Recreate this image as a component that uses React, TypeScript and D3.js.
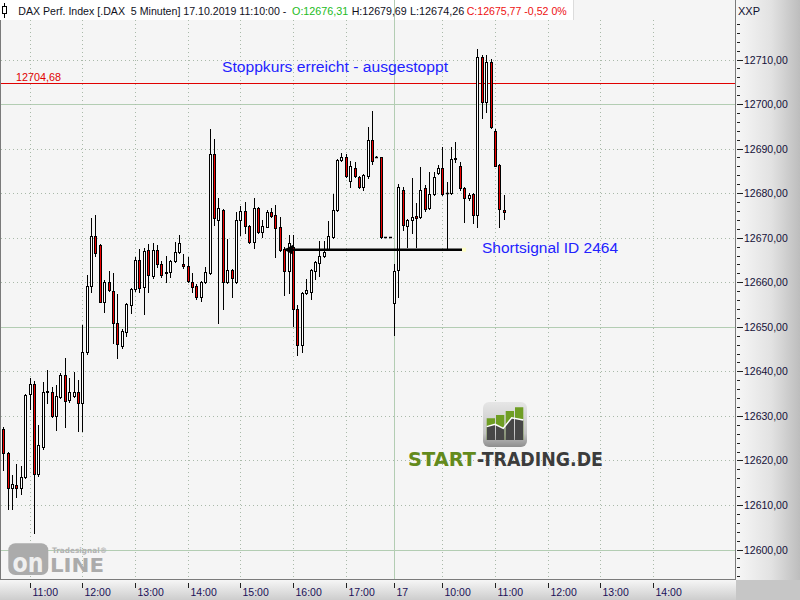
import React from 'react';
import * as d3 from 'd3';

// ---- data (5-minute DAX candles, 16.10.2019 10:30 .. 17.10.2019 11:10) ----
const opens = [
  12627.0, 12621.6, 12613.7, 12614.5, 12613.7, 12616.3, 12634.9, 12637.1, 12616.9, 12622.9,
  12635.4, 12635.4, 12629.9, 12634.3, 12639.2, 12633.5, 12634.4, 12635.4, 12632.9, 12644.3,
  12659.1, 12670.4, 12668.3, 12655.5, 12660.0, 12658.0, 12650.8, 12645.7, 12648.9, 12655.0,
  12658.4, 12665.0, 12659.0, 12667.2, 12661.5, 12667.2, 12664.2, 12662.2, 12662.4, 12664.8,
  12666.7, 12664.2, 12663.7, 12660.1, 12659.2, 12656.7, 12660.0, 12662.0, 12688.8, 12673.9,
  12676.2, 12660.0, 12662.7, 12660.1, 12674.0, 12676.0, 12672.6, 12669.1, 12676.6, 12671.3,
  12672.5, 12675.7, 12675.1, 12672.3, 12667.5, 12662.6, 12668.0, 12653.9, 12645.9, 12657.5,
  12657.9, 12662.6, 12664.4, 12665.9, 12667.5, 12670.2, 12676.2, 12687.4, 12688.2, 12682.7,
  12685.7, 12683.7, 12681.4, 12683.8, 12691.9, 12688.2, 12688.0, 12670.2, 12670.2,
  12655.3, 12662.7, 12680.7, 12672.6, 12674.0, 12674.8, 12674.7, 12681.1, 12676.6, 12679.8,
  12684.6, 12685.6, 12680.0, 12680.0, 12687.6, 12686.1, 12681.1, 12678.8, 12679.8, 12675.2,
  12710.6, 12700.4, 12709.4, 12694.0, 12686.3, 12676.31,
];
const highs = [
  12627.5, 12621.8, 12616.7, 12619.2, 12618.7, 12635.0, 12638.5, 12637.9, 12627.9, 12637.7,
  12640.3, 12636.5, 12636.9, 12639.6, 12643.0, 12638.5, 12639.8, 12638.0, 12650.4, 12661.6,
  12674.5, 12675.2, 12668.5, 12660.5, 12662.5, 12662.0, 12657.3, 12649.5, 12655.4, 12658.6,
  12665.7, 12667.4, 12667.6, 12668.5, 12668.7, 12668.4, 12664.8, 12666.0, 12665.0, 12669.1,
  12670.7, 12666.3, 12665.7, 12662.0, 12659.7, 12660.3, 12663.5, 12694.4, 12692.1, 12679.0,
  12676.4, 12669.7, 12663.0, 12675.8, 12677.1, 12678.1, 12672.8, 12678.8, 12677.0, 12674.0,
  12676.2, 12676.7, 12677.3, 12674.7, 12667.8, 12670.6, 12670.7, 12654.9, 12657.8, 12660.7,
  12663.0, 12664.8, 12669.2, 12669.2, 12673.8, 12679.7, 12687.6, 12688.9, 12688.7, 12687.2,
  12687.0, 12683.9, 12684.3, 12694.9, 12698.4, 12688.3, 12688.2, 12670.2, 12670.2,
  12664.1, 12682.0, 12681.4, 12674.2, 12683.3, 12677.7, 12685.9, 12681.8, 12684.8, 12684.8,
  12686.3, 12690.4, 12682.6, 12690.4, 12691.5, 12687.0, 12681.4, 12680.0, 12680.1, 12712.3,
  12711.0, 12711.0, 12710.1, 12694.5, 12686.5, 12679.69,
];
const lows = [
  12617.8, 12609.2, 12609.2, 12611.8, 12612.4, 12616.0, 12631.5, 12603.8, 12616.5, 12622.5,
  12633.0, 12629.7, 12626.8, 12634.0, 12627.6, 12633.1, 12634.2, 12626.7, 12626.7, 12644.0,
  12657.7, 12665.9, 12655.5, 12653.4, 12658.0, 12646.4, 12643.0, 12645.3, 12647.9, 12653.0,
  12658.0, 12657.9, 12652.8, 12657.9, 12661.0, 12663.5, 12661.2, 12660.0, 12661.2, 12664.5,
  12666.5, 12663.1, 12660.0, 12657.9, 12656.2, 12655.8, 12659.8, 12661.8, 12672.8, 12650.8,
  12654.1, 12659.8, 12656.7, 12659.9, 12670.6, 12671.0, 12668.7, 12667.6, 12671.1, 12670.1,
  12672.3, 12674.7, 12665.6, 12667.0, 12657.1, 12657.5, 12650.2, 12643.7, 12644.4, 12657.3,
  12656.2, 12660.7, 12661.5, 12665.7, 12667.3, 12670.0, 12676.0, 12687.2, 12683.6, 12681.4,
  12683.6, 12681.2, 12680.8, 12683.5, 12686.5, 12688.1, 12669.9, 12670.2, 12670.2,
  12648.1, 12656.7, 12671.7, 12668.0, 12671.0, 12668.0, 12674.5, 12676.0, 12676.4, 12679.6,
  12684.4, 12679.6, 12667.6, 12679.8, 12687.0, 12680.8, 12673.6, 12678.5, 12673.4, 12672.5,
  12696.8, 12698.3, 12694.6, 12686.0, 12672.5, 12674.26,
];
const closes = [
  12621.6, 12613.7, 12614.6, 12613.7, 12616.2, 12634.7, 12637.1, 12616.9, 12623.4, 12635.4,
  12635.6, 12629.9, 12634.4, 12639.2, 12633.4, 12635.4, 12635.4, 12633.0, 12644.3, 12659.1,
  12670.4, 12666.5, 12655.5, 12660.0, 12658.2, 12650.8, 12646.1, 12649.0, 12655.2, 12658.4,
  12664.9, 12658.8, 12667.0, 12661.6, 12667.2, 12664.2, 12661.6, 12662.0, 12664.8, 12666.7,
  12668.7, 12663.7, 12660.3, 12659.0, 12656.7, 12660.0, 12662.2, 12688.8, 12674.5, 12676.6,
  12660.1, 12662.7, 12660.9, 12674.0, 12676.1, 12672.6, 12669.1, 12676.6, 12671.3, 12672.6,
  12675.7, 12674.9, 12672.2, 12667.2, 12662.6, 12668.7, 12654.1, 12645.9, 12657.6, 12658.2,
  12662.7, 12664.5, 12665.9, 12666.8, 12670.4, 12676.2, 12687.4, 12688.2, 12683.8, 12686.1,
  12683.8, 12681.4, 12684.1, 12691.9, 12687.3, 12688.2, 12670.1, 12670.2, 12670.2,
  12662.5, 12681.4, 12672.8, 12674.0, 12674.7, 12674.5, 12680.7, 12676.4, 12679.8, 12683.7,
  12685.6, 12679.8, 12680.1, 12687.6, 12687.8, 12681.1, 12678.8, 12679.6, 12675.1, 12710.6,
  12700.4, 12709.4, 12694.8, 12686.1, 12676.4, 12675.77,
];

const xTickIdx = [6, 18, 30, 42, 54, 66, 78, 89, 100, 112, 124, 136, 148];
const xTickLabels = ['11:00', '12:00', '13:00', '14:00', '15:00', '16:00', '17:00', '17', '10:00', '11:00', '12:00', '13:00', '14:00'];
const dayBreakIdx = 89;
const yTickValues = [12600, 12610, 12620, 12630, 12640, 12650, 12660, 12670, 12680, 12690, 12700, 12710];
const greenLevels = [12600, 12650, 12700];
const stopLevel = 12704.68;
const shortLevel = 12667.3;
const shortFromIdx = 64.2;
const shortToIdx = 104.5;

const titleMain = 'DAX Perf. Index [.DAX  5 Minuten] 17.10.2019 11:10:00 -';
const titleO = 'O:12676,31';
const titleH = 'H:12679,69';
const titleL = 'L:12674,26';
const titleC = 'C:12675,77 -0,52 0%';

const fmt = (v: number) => v.toFixed(2).replace('.', ',');

export default function App() {
  const PR = 735;
  const PB = 580;
  const x = d3.scaleLinear().domain([0, 114]).range([3.3, 3.3 + 114 * 4.39]);
  const y = d3.scaleLinear().domain([12600, 12710]).range([549.5, 59.5]);
  const minorTicks = d3.range(12592, 12720, 2).filter((v) => y(v) > 21 && y(v) < 578);
  const font = "'Liberation Sans', Arial, sans-serif";

  return (
    <svg width={800} height={600} style={{ position: 'absolute', left: 0, top: 0, display: 'block' }} fontFamily={font}>
      <defs>
        <linearGradient id="rp" x1="0" x2="1" y1="0" y2="0">
          <stop offset="0" stopColor="#f7f7f7" />
          <stop offset="0.55" stopColor="#e2e2e2" />
          <stop offset="1" stopColor="#bdbdbd" />
        </linearGradient>
        <linearGradient id="bb" x1="0" x2="0" y1="0" y2="1">
          <stop offset="0" stopColor="#f6f6f6" />
          <stop offset="1" stopColor="#cdcdcd" />
        </linearGradient>
        <linearGradient id="logoBg" x1="0" x2="0" y1="0" y2="1">
          <stop offset="0" stopColor="#e6e6e6" />
          <stop offset="0.7" stopColor="#c4c4c4" />
          <stop offset="1" stopColor="#8e8e8e" />
        </linearGradient>
        <clipPath id="barsClip">
          <rect x={486.7} y={418.3} width={8.3} height={21.7} />
          <rect x={496} y={415} width={8.3} height={25} />
          <rect x={505.7} y={411} width={8.3} height={29} />
          <rect x={515} y={407.3} width={8.3} height={32.7} />
        </clipPath>
      </defs>

      {/* backgrounds */}
      <rect x={0} y={0} width={800} height={600} fill="#f5f5f5" />
      <rect x={0} y={0} width={573} height={20} fill="#ffffff" />

      {/* horizontal grid */}
      {yTickValues.filter((v) => !greenLevels.includes(v)).map((v) => (
        <line key={'hg' + v} x1={1} x2={PR} y1={Math.round(y(v)) + 0.5} y2={Math.round(y(v)) + 0.5}
          stroke="#a9b9a9" strokeDasharray="1 3" />
      ))}
      {greenLevels.map((v) => (
        <line key={'gg' + v} x1={1} x2={PR} y1={Math.round(y(v)) + 0.5} y2={Math.round(y(v)) + 0.5} stroke="#b3cdb3" />
      ))}
      {/* vertical grid */}
      {xTickIdx.filter((i) => i !== dayBreakIdx).map((i) => (
        <line key={'vg' + i} x1={Math.round(x(i)) + 0.5} x2={Math.round(x(i)) + 0.5} y1={20} y2={PB}
          stroke="#a9b9a9" strokeDasharray="1 3" />
      ))}
      <line x1={Math.round(x(dayBreakIdx)) + 0.5} x2={Math.round(x(dayBreakIdx)) + 0.5} y1={0} y2={PB} stroke="#b3cdb3" />

      {/* stop level */}
      <line x1={1} x2={PR} y1={Math.round(y(stopLevel)) + 0.5} y2={Math.round(y(stopLevel)) + 0.5} stroke="#e00000" />
      <text x={16} y={Math.round(y(stopLevel)) - 2} fontSize={11} fill="#e00000" textLength={45} lengthAdjust="spacingAndGlyphs">
        {fmt(stopLevel)}
      </text>

      {/* START-TRADING.DE watermark */}
      <g>
        <rect x={483} y={402} width={44} height={45} rx={6} fill="url(#logoBg)" />
        <g clipPath="url(#barsClip)">
          <rect x={485} y={405} width={40} height={36} fill="#6f9e24" />
          <polygon points="486.7,426.7 495,424.3 503.3,428.3 511.7,417.7 523.3,420 523.3,441 486.7,441" fill="#474747" />
        </g>
        <polyline points="486.7,426.7 495,424.3 503.3,428.3 511.7,417.7 523.3,420" fill="none" stroke="#ffffff" strokeWidth={1.4} />
        <text x={408} y={465.7} fontSize={20} fontWeight="bold" fontFamily="'DejaVu Sans', sans-serif" fill="#638a1c"
          textLength={68} lengthAdjust="spacingAndGlyphs">START</text>
        <text x={477} y={465.7} fontSize={20} fontWeight="bold" fontFamily="'DejaVu Sans', sans-serif" fill="#3c3c3c"
          textLength={126} lengthAdjust="spacingAndGlyphs">-TRADING.DE</text>
      </g>

      {/* Tradesignal online watermark */}
      <g>
        <rect x={8.3} y={543.3} width={40} height={31.7} rx={7} fill="#ababab" />
        <text x={12.5} y={571.5} fontSize={27} fontWeight="bold" fontFamily="'DejaVu Sans', sans-serif" fill="#efefef"
          textLength={31} lengthAdjust="spacingAndGlyphs">on</text>
        <text x={50} y={571.5} fontSize={19} fontWeight="bold" fontFamily="'DejaVu Sans', sans-serif" fill="#ababab"
          textLength={54} lengthAdjust="spacingAndGlyphs">LINE</text>
        <text x={52} y={552.5} fontSize={7.5} fontWeight="bold" fontFamily="'DejaVu Sans', sans-serif" fill="#b2b2b2"
          textLength={55} lengthAdjust="spacingAndGlyphs">Tradesignal®</text>
      </g>

      {/* candles */}
      {opens.map((o, i) => {
        const c = closes[i];
        const px = Math.round(x(i));
        const yo = y(o);
        const yc = y(c);
        const top = Math.round(Math.min(yo, yc));
        const bot = Math.round(Math.max(yo, yc));
        const up = c >= o;
        const h = bot - top;
        return (
          <g key={'c' + i}>
            <line x1={px + 0.5} x2={px + 0.5} y1={Math.round(y(highs[i]))} y2={Math.round(y(lows[i])) + 1} stroke="#000" strokeWidth={1} />
            {h >= 1 ? (
              <rect x={px - 0.5} y={top + 0.5} width={2} height={h} fill={up ? '#ffffff' : '#ee0000'} stroke="#000" strokeWidth={1} />
            ) : (
              <line x1={px - 1} x2={px + 2} y1={top + 0.5} y2={top + 0.5} stroke="#000" strokeWidth={1.5} />
            )}
          </g>
        );
      })}

      {/* short signal line */}
      <line x1={x(shortFromIdx)} x2={x(shortToIdx)} y1={y(shortLevel)} y2={y(shortLevel)} stroke="#000" strokeWidth={2.5} />
      <polygon
        points={`${x(shortFromIdx) - 1},${y(shortLevel)} ${x(shortFromIdx) + 8},${y(shortLevel) - 5} ${x(shortFromIdx) + 8},${y(shortLevel) + 5}`}
        fill="#000" />
      <rect x={x(shortToIdx)} y={y(shortLevel) - 2} width={4} height={4} fill="#ffffc8" />

      {/* annotations */}
      <text x={222} y={71.5} fontSize={15.5} fill="#2222ff" textLength={226} lengthAdjust="spacingAndGlyphs">
        Stoppkurs erreicht - ausgestoppt
      </text>
      <text x={482} y={253} fontSize={15.5} fill="#2222ff" textLength={136} lengthAdjust="spacingAndGlyphs">
        Shortsignal ID 2464
      </text>

      {/* title */}
      <line x1={4.5} x2={4.5} y1={3} y2={18} stroke="#000" />
      <rect x={2.5} y={6.5} width={4} height={7} fill="#fff" stroke="#000" />
      <text y={15} fontSize={10.5} fill="#10101c" style={{ whiteSpace: 'pre' }}>
        <tspan x={18.3} textLength={268} lengthAdjust="spacingAndGlyphs">{titleMain}</tspan>
        <tspan x={292} fill="#22bb22" textLength={56.3} lengthAdjust="spacingAndGlyphs">{titleO}</tspan>
        <tspan x={351.7} textLength={55} lengthAdjust="spacingAndGlyphs">{titleH}</tspan>
        <tspan x={410} textLength={54.3} lengthAdjust="spacingAndGlyphs">{titleL}</tspan>
        <tspan x={466.7} fill="#ee1111" textLength={100} lengthAdjust="spacingAndGlyphs">{titleC}</tspan>
      </text>
      <line x1={573.5} x2={573.5} y1={0} y2={20} stroke="#dcdcdc" />

      {/* right axis panel */}
      <rect x={736} y={0} width={64} height={PB} fill="url(#rp)" />
      <rect x={0} y={PB} width={736} height={20} fill="url(#bb)" />
      <rect x={736} y={PB} width={64} height={20} fill="#c6c6c6" />
      <line x1={PR + 0.5} x2={PR + 0.5} y1={0} y2={PB} stroke="#7a7a7a" />
      <line x1={0} x2={PR + 1} y1={PB - 0.5} y2={PB - 0.5} stroke="#7a7a7a" />
      <line x1={0.5} x2={0.5} y1={20} y2={PB} stroke="#7a7a7a" />

      <text x={738} y={15} fontSize={11} fill="#101030">XXP</text>
      {minorTicks.map((v) => (
        <line key={'mt' + v} x1={737} x2={740} y1={Math.round(y(v)) + 0.5} y2={Math.round(y(v)) + 0.5} stroke="#202020" />
      ))}
      {yTickValues.map((v) => (
        <g key={'yt' + v}>
          <line x1={737} x2={743} y1={Math.round(y(v)) + 0.5} y2={Math.round(y(v)) + 0.5} stroke="#202020" />
          <text x={744} y={y(v) + 4} fontSize={10.5} fill="#141038">{fmt(v)}</text>
        </g>
      ))}

      {/* bottom axis */}
      {xTickIdx.map((i, k) => (
        <g key={'xt' + i}>
          <line x1={Math.round(x(i)) + 0.5} x2={Math.round(x(i)) + 0.5} y1={583} y2={588} stroke="#202020" />
          <text x={Math.round(x(i)) + 2.5} y={596} fontSize={10.5} fill="#1a1058">{xTickLabels[k]}</text>
        </g>
      ))}
    </svg>
  );
}
